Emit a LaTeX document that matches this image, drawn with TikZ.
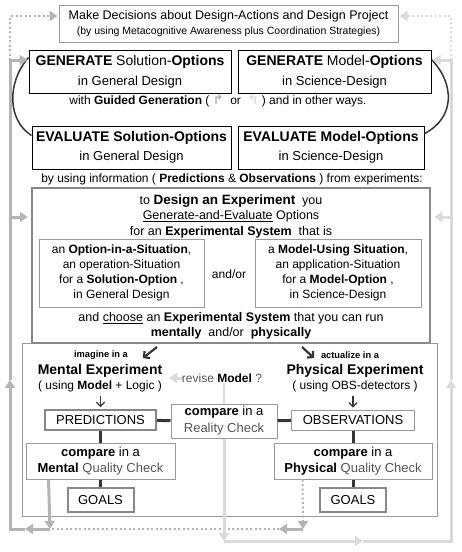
\documentclass[tikz,border=0pt]{standalone}
\usepackage{fontspec}
\setmainfont{Liberation Sans}
\newfontfamily\arrowglyphs{DejaVu Sans}
\usepackage{xcolor}
\usepackage{tikz}
\usetikzlibrary{arrows.meta, positioning, calc}
\definecolor{darkline}{HTML}{363636}
\definecolor{boxgray}{HTML}{9A9A9A}
\definecolor{heavygray}{HTML}{888888}
\definecolor{fbgray}{HTML}{B4B4B4}
\definecolor{fblight}{HTML}{DADADA}
\definecolor{textgray}{HTML}{555555}

\begin{document}
\begin{tikzpicture}[x=1pt, y=-1pt]
% Define styles
\tikzstyle{taskbox} = [rectangle, draw=black, line width=1pt, minimum height=43pt, inner sep=0pt, align=center, font=\fontsize{13}{20}\selectfont]
\tikzstyle{thinbox} = [rectangle, draw=boxgray, line width=1pt, inner sep=0pt, align=center]
\tikzstyle{heavybox} = [rectangle, draw=heavygray, line width=2pt, inner sep=0pt, align=center, font=\fontsize{13}{15}\selectfont]
\tikzstyle{label} = [align=center, inner sep=0pt]
\tikzstyle{link} = [darkline, line width=3pt]
\tikzstyle{loopcurve} = [darkline, line width=1.5pt]
\tikzstyle{stepdown} = [darkline, line width=1.2pt, -{Straight Barb[length=4pt,width=8pt]}]
\tikzstyle{runarrow} = [darkline, line width=2.2pt, -{Straight Barb[length=4pt,width=9pt]}]
\tikzstyle{fbarrow} = [fbgray, line width=3pt, -{Triangle[length=8pt,width=10pt]}]
\tikzstyle{fbdots} = [fbgray, line width=2pt, dash pattern=on 2pt off 2.5pt]
\tikzstyle{rfbarrow} = [fblight, line width=3pt, -{Triangle[length=8pt,width=10pt]}]
\tikzstyle{rfbdots} = [fblight, line width=2pt, dash pattern=on 2pt off 2.5pt]

\useasboundingbox (0,0) rectangle (461,552);

% Nodes
\node (decide) [thinbox, minimum width=339pt, minimum height=37pt, font=\fontsize{12.5}{15.5}\selectfont] at (228.5,23.5)
  {Make Decisions about Design-Actions and Design Project\\{\fontsize{10.5}{15.5}\selectfont (by using Metacognitive Awareness plus Coordination Strategies)}};

\node (genS) [taskbox, minimum width=202pt] at (130,71.5)
  {{\fontsize{14}{20}\selectfont\textbf{GENERATE} Solution-\textbf{Options}}\\in General Design};
\node (genM) [taskbox, minimum width=193pt] at (334.5,71.5)
  {{\fontsize{14}{20}\selectfont\textbf{GENERATE} Model-\textbf{Options}}\\in Science-Design};
\node (guided) [label, font=\fontsize{12}{14}\selectfont] at (218,101)
  {with \textbf{Guided Generation} ( {\arrowglyphs\bfseries\fontsize{13}{14}\selectfont\textcolor{fbgray}{↱}} \ or \ {\arrowglyphs\bfseries\fontsize{13}{14}\selectfont\textcolor{fblight}{↰}} ) and in other ways.};
\node (evalS) [taskbox, minimum width=199pt, font=\fontsize{13}{19}\selectfont] at (131.5,147.5)
  {{\fontsize{14}{19}\selectfont\textbf{EVALUATE Solution-Options}}\\in General Design};
\node (evalM) [taskbox, minimum width=186pt, font=\fontsize{13}{19}\selectfont] at (331,147.5)
  {{\fontsize{14}{19}\selectfont\textbf{EVALUATE Model-Options}}\\in Science-Design};
\node (info) [label, font=\fontsize{12}{14}\selectfont] at (232,179)
  {by using information ( \textbf{Predictions} \& \textbf{Observations} ) from experiments:};

\node (runbox) [thinbox, minimum width=415pt, minimum height=173pt] at (229.5,429.5) {};
\node (design) [rectangle, draw=heavygray, line width=2.5pt, minimum width=398pt, minimum height=155pt] at (231,265.5) {};
\node (dtitle) [label, font=\fontsize{12.5}{15.5}\selectfont] at (231,216)
  {to {\fontsize{13.5}{15.5}\selectfont\textbf{Design an Experiment}} \ you\\\underline{Generate-and-Evaluate} Options\\for an \textbf{Experimental System} \ that is};
\node (optsit) [thinbox, minimum width=165pt, minimum height=68pt, font=\fontsize{12}{15}\selectfont] at (121.5,273)
  {an \textbf{Option-in-a-Situation},\\an operation-Situation\\for a \textbf{Solution-Option} ,\\in General Design};
\node (andor) [label, font=\fontsize{12}{15}\selectfont] at (229,274) {and/or};
\node (modsit) [thinbox, minimum width=166pt, minimum height=68pt, font=\fontsize{12}{15}\selectfont] at (338,273)
  {a \textbf{Model-Using Situation},\\an application-Situation\\for a \textbf{Model-Option} ,\\in Science-Design};
\node (choose) [label, font=\fontsize{12.5}{15}\selectfont] at (231,325.5)
  {and \underline{choose} an \textbf{Experimental System} that you can run\\\textbf{mentally} \ and/or \ \textbf{physically}};

\node (imagine) [label, font=\fontsize{9.3}{11}\selectfont\bfseries] at (101,355) {imagine in a};
\node (actualize) [label, font=\fontsize{9.3}{11}\selectfont\bfseries] at (350,355) {actualize in a};
\node (mental) [label, font=\fontsize{12}{15}\selectfont] at (100,378.5)
  {{\fontsize{14}{15}\selectfont\textbf{Mental Experiment}}\\( using \textbf{Model} + Logic )};
\node (physical) [label, font=\fontsize{12}{15}\selectfont] at (355,378.5)
  {{\fontsize{14}{15}\selectfont\textbf{Physical Experiment}}\\( using OBS-detectors )};
\node (revise) [label, font=\fontsize{12}{14}\selectfont, text=textgray] at (222,378)
  {revise \textcolor{black}{\textbf{Model}} ?};

\node (pred) [heavybox, minimum width=111pt, minimum height=20pt] at (100.5,420) {PREDICTIONS};
\node (reality) [thinbox, minimum width=106pt, minimum height=34pt, font=\fontsize{13}{17}\selectfont] at (224,421)
  {\textbf{compare} in a\\\textcolor{textgray}{Reality Check}};
\node (obs) [thinbox, minimum width=123pt, minimum height=20pt, font=\fontsize{13}{15}\selectfont] at (353,420) {OBSERVATIONS};
\node (mqc) [thinbox, minimum width=149pt, minimum height=36pt, font=\fontsize{13}{16}\selectfont] at (100.5,461)
  {\textbf{compare} in a\\\textbf{Mental} \textcolor{textgray}{Quality Check}};
\node (pqc) [thinbox, minimum width=158pt, minimum height=36pt, font=\fontsize{13}{16}\selectfont] at (353,461)
  {\textbf{compare} in a\\\textbf{Physical} \textcolor{textgray}{Quality Check}};
\node (goalsM) [heavybox, minimum width=66pt, minimum height=24pt] at (100.5,500) {GOALS};
\node (goalsP) [heavybox, minimum width=66pt, minimum height=24pt] at (353,500) {GOALS};

% Coordinates for the feedback loops
\coordinate (mstart) at (157,347);
\coordinate (mtip) at (143,358);
\coordinate (pstart) at (302,347);
\coordinate (ptip) at (314,358);
\coordinate (revtip) at (169,378);
\coordinate (jl) at (50,529);
\coordinate (jlmid) at (25,529);
\coordinate (lcorner) at (10,529);
\coordinate (lup) at (10,380);
\coordinate (ltop) at (10,60);
\coordinate (ldes) at (10,217);
\coordinate (ldtop) at (10,16);
\coordinate (pj) at (303,529);
\coordinate (pjmid) at (279,529);
\coordinate (rdown) at (224,541);
\coordinate (rmid) at (363,541);
\coordinate (rcorner) at (451,541);
\coordinate (rup) at (451,380);
\coordinate (rtop) at (451,60);
\coordinate (rdes) at (451,217);
\coordinate (rdtop) at (451,16);

% Connections
\draw [loopcurve] ([yshift=-8pt]genS.north west) .. controls (7,82) and (7,120) .. ([yshift=-10pt]evalS.north west);
\draw [loopcurve] ([yshift=-10pt]genM.north east) .. controls (455,84) and (455,118) .. ([yshift=-8pt]evalM.north east);

\draw [runarrow] (mstart) -- (mtip);
\draw [runarrow] (pstart) -- (ptip);
\draw [stepdown, shorten <=3pt, shorten >=2pt] (mental.south -| pred.north) -- (pred.north);
\draw [stepdown, shorten <=3pt, shorten >=2pt] (physical.south -| obs.north) -- (obs.north);
\draw [fblight, line width=2pt] (reality.north) -- (reality.north |- revise.south);
\draw [rfbarrow] (revise.west) -- (revtip);

\draw [link] (pred) -- (reality);
\draw [link] (reality) -- (obs);
\draw [link] (pred) -- (mqc);
\draw [link] (mqc) -- (goalsM);
\draw [link] (obs) -- (pqc);
\draw [link] (pqc) -- (goalsP);

% left loop (medium gray)
\draw [fbarrow] ([xshift=23pt]mqc.south west) -- (jl);
\draw [fbarrow] (jl) -- (jlmid);
\draw [fbarrow] (jlmid) -- (lcorner) -- (lup);
\draw [fbarrow, shorten >=1pt] (lup) -- (ltop) -- (ltop -| genS.west);
\draw [fbarrow, shorten >=3pt] (ldes) -- (ldes -| design.west);
\draw [fbdots] (ltop) -- (ldtop) -- ([xshift=-9pt]ldtop -| decide.west);
\draw [fbarrow] ([xshift=-9pt]ldtop -| decide.west) -- ([xshift=-1pt]ldtop -| decide.west);
\draw [fbdots] ([xshift=29pt]pqc.south west) -- ([yshift=8pt]pj);
\draw [fbarrow] ([yshift=8pt]pj) -- (pj);
\draw [fbarrow] (pj) -- (pjmid);
\draw [fbdots] (pjmid) -- (jl);

% right loop (light gray)
\draw [rfbarrow] (reality.south) -- (rdown);
\draw [rfbarrow] (rdown) -- (rmid);
\draw [rfbarrow] (rmid) -- (rcorner) -- (rup);
\draw [rfbarrow, shorten >=1pt] (rup) -- (rtop) -- (rtop -| genM.east);
\draw [rfbarrow, shorten >=3pt] (rdes) -- (rdes -| design.east);
\draw [rfbdots] (rtop) -- (rdtop) -- ([xshift=9pt]rdtop -| decide.east);
\draw [rfbarrow] ([xshift=9pt]rdtop -| decide.east) -- ([xshift=1pt]rdtop -| decide.east);

\end{tikzpicture}
\end{document}
